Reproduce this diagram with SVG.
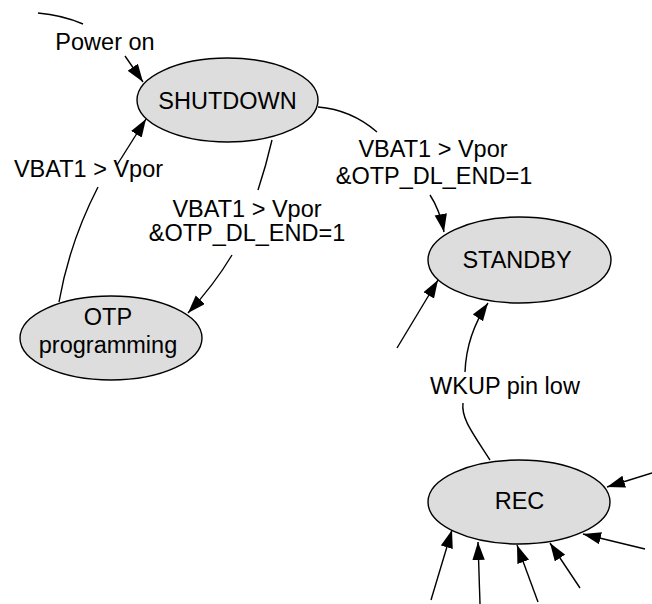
<svg xmlns="http://www.w3.org/2000/svg" width="652" height="604" viewBox="0 0 652 604">
  <style>
    .node ellipse { fill: #dddddd; stroke: #000; stroke-width: 1.4; }
    .lbl { font-family: "Liberation Sans", Arial, sans-serif; font-size: 23.5px; fill: #000; text-anchor: middle; }
    .edge { fill: none; stroke: #000; stroke-width: 1.4; }
    .arr { marker-end: url(#head); }
  </style>
  <defs>
    <marker id="head" markerUnits="userSpaceOnUse" markerWidth="19" markerHeight="13" refX="18" refY="6.2" orient="auto">
      <path d="M0,0 L18,6.2 L0,12.4 z" fill="#000"/>
    </marker>
  </defs>

  <rect width="652" height="604" fill="#fff"/>

  <!-- connectors -->
  <g id="edges">
    <!-- power on -->
    <path class="edge" d="M38,13 Q62,15 83,24"/>
    <path class="edge arr" d="M125,56 L143,82"/>
    <!-- OTP programming -> SHUTDOWN -->
    <path class="edge" d="M59,302 C66,262 80,222 98,187"/>
    <path class="edge arr" d="M117,165 L146,119"/>
    <!-- SHUTDOWN -> OTP programming -->
    <path class="edge" d="M272,140 Q266,166 258,190"/>
    <path class="edge arr" d="M232,255 Q214,285 188,313"/>
    <!-- SHUTDOWN -> STANDBY -->
    <path class="edge" d="M318,107 C343,109 362,119 377,132"/>
    <path class="edge arr" d="M430,195 Q440,210 444,232"/>
    <!-- into STANDBY -->
    <path class="edge arr" d="M397,348 L438,280"/>
    <!-- REC -> STANDBY -->
    <path class="edge" d="M490,460 C472,432 461,418 463,403"/>
    <path class="edge arr" d="M465,372 C466,346 475,322 488,303"/>
    <!-- into REC -->
    <path class="edge arr" d="M652,473 L607,487"/>
    <path class="edge arr" d="M645,549 L583,534"/>
    <path class="edge arr" d="M580,588 L550,543"/>
    <path class="edge arr" d="M538,602 L517,545"/>
    <path class="edge arr" d="M480,604 L478,542"/>
    <path class="edge arr" d="M431,600 L452,530"/>
  </g>

  <!-- edge labels -->
  <g id="edge-labels">
    <text class="lbl" x="105" y="50">Power on</text>
    <text class="lbl" x="88.5" y="177">VBAT1 &gt; Vpor</text>
    <text class="lbl" x="247" y="217">VBAT1 &gt; Vpor</text>
    <text class="lbl" x="247" y="241">&amp;OTP_DL_END=1</text>
    <text class="lbl" x="433" y="157">VBAT1 &gt; Vpor</text>
    <text class="lbl" x="434" y="184">&amp;OTP_DL_END=1</text>
    <text class="lbl" x="505" y="394">WKUP pin low</text>
  </g>

  <g id="shutdown" class="node">
    <ellipse cx="227.5" cy="100" rx="90.5" ry="42"/>
    <text class="lbl" x="227.5" y="109">SHUTDOWN</text>
  </g>

  <g id="otp" class="node">
    <ellipse cx="111" cy="338" rx="91" ry="42"/>
    <text class="lbl" x="108" y="325">OTP</text>
    <text class="lbl" x="108" y="353">programming</text>
  </g>

  <g id="standby" class="node">
    <ellipse cx="519.5" cy="260" rx="91.5" ry="43"/>
    <text class="lbl" x="517" y="268">STANDBY</text>
  </g>

  <g id="rec" class="node">
    <ellipse cx="519" cy="502" rx="91" ry="42"/>
    <text class="lbl" x="519.5" y="509">REC</text>
  </g>
</svg>
